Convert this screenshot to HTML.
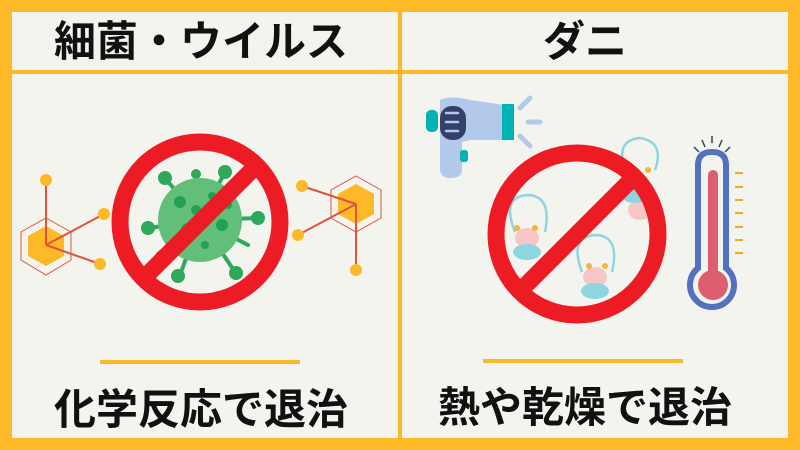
<!DOCTYPE html>
<html><head><meta charset="utf-8"><style>
body{margin:0;width:800px;height:450px;overflow:hidden;background:#F4F4EF}
.t{position:absolute;font-family:"Liberation Sans","Noto Sans CJK JP",sans-serif;font-weight:bold;color:#111;text-align:center;width:390px;font-size:42px;line-height:46px;white-space:nowrap}
</style></head><body>
<svg width="800" height="450" style="position:absolute;left:0;top:0">
<rect x="6" y="6" width="788" height="438" fill="#F4F4EF" stroke="#FDB927" stroke-width="12"/>
<rect x="398" y="0" width="4" height="450" fill="#FDB927"/>
<rect x="0" y="70" width="800" height="4" fill="#FDB927"/>
<rect x="100" y="360" width="200" height="4" fill="#FDB927"/>
<rect x="483" y="359" width="200" height="4" fill="#FDB927"/>
<polygon points="46,218 71,232 71,260 46,275 21,260 21,232" fill="none" stroke="#E0533A" stroke-width="1"/>
<polygon points="46,226 64,236 64,256 46,266 28,256 28,236" fill="#FDB927"/>
<g stroke="#E0533A" stroke-width="2"><line x1="46" y1="180" x2="46" y2="245"/><line x1="46" y1="245" x2="104" y2="214"/><line x1="46" y1="245" x2="100" y2="264"/></g>
<g fill="#FDB927"><circle cx="46" cy="180" r="6"/><circle cx="104" cy="214" r="6"/><circle cx="100" cy="264" r="6"/></g>
<polygon points="356,176 381,190 381,218 356,232 331,218 331,190" fill="none" stroke="#E0533A" stroke-width="1"/>
<polygon points="356,184 374,194 374,214 356,224 338,214 338,194" fill="#FDB927"/>
<g stroke="#E0533A" stroke-width="2"><line x1="302" y1="186" x2="356" y2="204"/><line x1="356" y1="204" x2="298" y2="235"/><line x1="356" y1="204" x2="356" y2="270"/></g>
<g fill="#FDB927"><circle cx="302" cy="186" r="6"/><circle cx="298" cy="235" r="6"/><circle cx="356" cy="270" r="6"/></g>
<g stroke="#2FA85A" stroke-width="4" stroke-linecap="round">
<line x1="200" y1="220" x2="165" y2="178"/><line x1="200" y1="220" x2="225" y2="172"/><line x1="200" y1="220" x2="150" y2="228"/><line x1="200" y1="220" x2="258" y2="218"/><line x1="200" y1="220" x2="180" y2="275"/><line x1="200" y1="220" x2="235" y2="272"/><line x1="200" y1="220" x2="196" y2="174"/><line x1="200" y1="220" x2="248" y2="245"/><line x1="200" y1="220" x2="158" y2="254"/></g>
<g fill="#2FA85A"><circle cx="165" cy="178" r="7"/><circle cx="225" cy="172" r="7"/><circle cx="148" cy="228" r="7"/><circle cx="258" cy="218" r="7"/><circle cx="178" cy="276" r="7"/><circle cx="236" cy="273" r="7"/><circle cx="196" cy="174" r="5"/></g>
<circle cx="200" cy="220" r="42" fill="#62BF7A"/>
<g fill="#22A055"><circle cx="180" cy="202" r="6"/><circle cx="196" cy="210" r="5"/><circle cx="212" cy="196" r="4"/><circle cx="188" cy="230" r="7"/><circle cx="222" cy="225" r="6"/><circle cx="205" cy="245" r="4"/><circle cx="228" cy="205" r="4"/><circle cx="175" cy="245" r="4"/></g>
<circle cx="200" cy="222" r="80" fill="none" stroke="#ED1C24" stroke-width="17"/>
<line x1="143" y1="279" x2="257" y2="165" stroke="#ED1C24" stroke-width="17"/>
<rect x="426" y="110" width="12" height="22" rx="5" fill="#00B3B5"/>
<path d="M440 100 Q450 95 470 100 L512 106 L512 140 L470 140 L462 142 L462 170 Q462 178 450 178 Q440 178 440 168 Z" fill="#B3C9EB"/>
<rect x="502" y="104" width="12" height="36" fill="#00B3B5"/>
<rect x="460" y="150" width="8" height="12" rx="3" fill="#00B3B5"/>
<rect x="440" y="106" width="26" height="34" rx="12" fill="#343F6A"/>
<g stroke="#B3C9EB" stroke-width="2.5" stroke-linecap="round"><line x1="446" y1="113" x2="458" y2="113"/><line x1="446" y1="122" x2="458" y2="122"/><line x1="446" y1="131" x2="458" y2="131"/></g>
<g stroke="#B3C9EB" stroke-width="5" stroke-linecap="round"><line x1="520" y1="108" x2="530" y2="98"/><line x1="528" y1="122" x2="540" y2="122"/><line x1="520" y1="136" x2="530" y2="146"/></g>
<g fill="none" stroke="#8DD6DF" stroke-width="2.5"><path d="M515 232 Q500 195 530 195 Q552 198 545 232"/><path d="M582 272 Q568 235 598 235 Q620 238 612 272"/><path d="M625 170 Q615 140 640 138 Q665 142 655 170"/></g>
<g fill="#F7C6C6"><ellipse cx="527" cy="238" rx="12" ry="10"/><ellipse cx="595" cy="277" rx="12" ry="10"/><ellipse cx="640" cy="210" rx="12" ry="10"/></g>
<g fill="#8DD6DF"><ellipse cx="527" cy="252" rx="14" ry="8"/><ellipse cx="595" cy="291" rx="14" ry="8"/><ellipse cx="635" cy="195" rx="14" ry="8"/></g>
<g fill="#F5B33C"><circle cx="517" cy="228" r="3"/><circle cx="535" cy="228" r="3"/><circle cx="589" cy="266" r="3"/><circle cx="605" cy="266" r="3"/><circle cx="648" cy="170" r="3"/></g>
<circle cx="577" cy="234" r="81" fill="none" stroke="#ED1C24" stroke-width="17"/>
<line x1="520" y1="291" x2="634" y2="177" stroke="#ED1C24" stroke-width="17"/>
<path d="M698 165 Q698 152 712 152 Q726 152 726 165 L726 268 A22 22 0 1 1 698 268 Z" fill="#F4F4EF" stroke="#5470C0" stroke-width="6"/>
<rect x="708" y="170" width="10" height="105" rx="5" fill="#DD5E6E"/>
<circle cx="713" cy="285" r="15" fill="#DD5E6E"/>
<g stroke="#343F6A" stroke-width="1.5"><line x1="712" y1="136" x2="712" y2="143"/><line x1="702" y1="140" x2="705" y2="147"/><line x1="722" y1="140" x2="719" y2="147"/><line x1="694" y1="147" x2="699" y2="152"/><line x1="730" y1="147" x2="725" y2="152"/></g>
<g stroke="#F5A623" stroke-width="2"><line x1="735" y1="173" x2="743" y2="173"/><line x1="735" y1="187" x2="743" y2="187"/><line x1="735" y1="200" x2="743" y2="200"/><line x1="735" y1="213" x2="743" y2="213"/><line x1="735" y1="227" x2="743" y2="227"/><line x1="735" y1="240" x2="743" y2="240"/><line x1="735" y1="253" x2="743" y2="253"/></g>
</svg>
<div class="t" style="left:6px;top:19px">細菌・ウイルス</div>
<div class="t" style="left:390px;top:19px">ダニ</div>
<div class="t" style="left:6px;top:387px">化学反応で退治</div>
<div class="t" style="left:390px;top:385px">熱や乾燥で退治</div>
</body></html>
